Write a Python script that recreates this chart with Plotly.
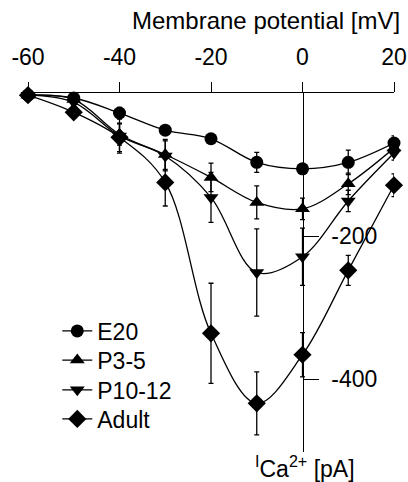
import plotly.graph_objects as go

voltage = [-60, -50, -40, -30, -20, -10, 0, 10, 20]

series_names = ["E20", "P3-5", "P10-12", "Adult"]
e20 = [-3, -7, -28, -52, -64, -97, -106, -97, -70]
p3_5 = [-3, -9, -58, -86, -118, -153, -162, -127, -77]
p10_12 = [-3, -13, -60, -88, -146, -251, -229, -151, -84]
adult = [-3, -27, -62, -125, -336, -434, -366, -248, -129]

e20_err = [0, 3, 8, 5, 5, 14, 5, 17, 10]
p3_5_err = [0, 5, 15, 21, 20, 23, 15, 15, 10]
p10_12_err = [0, 5, 24, 21, 35, 61, 40, 15, 10]
adult_err = [0, 8, 20, 33, 70, 44, 31, 21, 16]

x_ticks = [-60, -40, -20, 0, 20]
x_ticktext = ["-60", "-40", "-20", "0", "20"]
y_ticks = [-200, -400]
y_ticktext = ["-200", "-400"]

symbols = ["circle", "triangle-up", "triangle-down", "diamond"]
sizes = [13, 13, 13, 14]
values = [e20, p3_5, p10_12, adult]
errors = [e20_err, p3_5_err, p10_12_err, adult_err]
legend_ids = ["legend", "legend2", "legend3", "legend4"]
legend_rows = [0.337, 0.256, 0.173, 0.092]

FONT = "Liberation Sans, Arial, sans-serif"

fig = go.Figure()
for name, vals, err, sym, sz, lid in zip(series_names, values, errors, symbols, sizes, legend_ids):
    fig.add_trace(go.Scatter(
        x=voltage, y=vals, name=name, mode="lines+markers",
        line=dict(color="black", width=1.3, shape="spline", smoothing=1),
        marker=dict(symbol=sym, size=sz, color="black"),
        error_y=dict(type="data", array=err, visible=True, color="black",
                     thickness=1.3, width=2.5),
        cliponaxis=False, legend=lid,
    ))

legend_layout = {}
for lid, row in zip(legend_ids, legend_rows):
    legend_layout[lid] = dict(x=0.08, y=row, xanchor="left", yanchor="middle",
                              bgcolor="rgba(0,0,0,0)", font=dict(size=23),
                              itemwidth=30, tracegroupgap=0)

fig.update_layout(
    width=408, height=482,
    margin=dict(l=28, r=14, t=93, b=30),
    paper_bgcolor="white", plot_bgcolor="white",
    font=dict(family=FONT, size=23, color="black"),
    showlegend=True,
    xaxis=dict(
        side="top", range=[-60, 20], tickvals=x_ticks, ticktext=x_ticktext,
        showline=True, linecolor="black", linewidth=1.3,
        ticks="outside", ticklen=10, tickwidth=1.3, tickcolor="black",
        showgrid=False, zeroline=False, tickfont=dict(size=23),
        automargin=False, ticklabelstandoff=8,
    ),
    yaxis=dict(
        anchor="free", position=0.75, side="right", range=[-502, 0],
        tickvals=y_ticks, ticktext=y_ticktext,
        showline=True, linecolor="black", linewidth=1.3,
        ticks="outside", ticklen=15, tickwidth=1.3, tickcolor="black",
        showgrid=False, zeroline=False, tickfont=dict(size=23),
        automargin=False, ticklabelstandoff=8,
    ),
    annotations=[
        dict(text="Membrane potential [mV]", xref="paper", yref="paper",
             x=1, y=1, xanchor="right", yanchor="bottom", xshift=8, yshift=57,
             showarrow=False, font=dict(size=24)),
        dict(text="<sup>I</sup>Ca<sup>2+</sup> [pA]", xref="paper", yref="paper",
             x=0.75, y=0, xanchor="center", yanchor="top", xshift=2, yshift=2,
             showarrow=False, font=dict(size=23)),
    ],
    **legend_layout,
)

fig.write_html("out.html", config={"displayModeBar": False},
               post_script="document.body.style.margin='0';")
